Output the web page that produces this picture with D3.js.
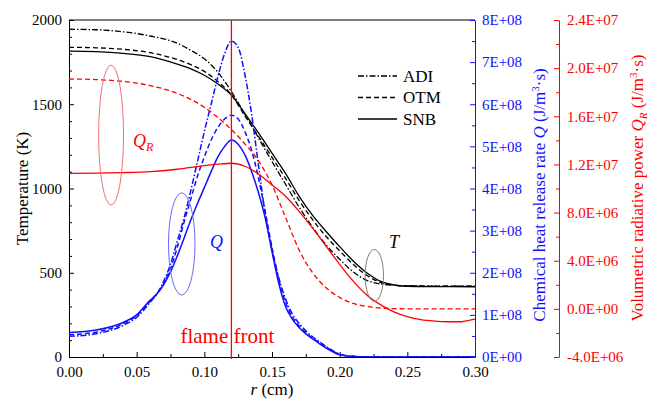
<!DOCTYPE html>
<html>
<head>
<meta charset="utf-8">
<script src="https://cdn.jsdelivr.net/npm/d3@7"></script>
<style>
  body { margin: 0; background: #fff; }
  svg { display: block; }
  text { font-family: "Liberation Serif", "Times New Roman", serif; }
</style>
</head>
<body>
<svg id="chart" width="649" height="401" font-family="Liberation Serif, serif"></svg>
<script>
// radius grids (cm)
const rT = [0, 0.02, 0.04, 0.06, 0.08, 0.09, 0.10, 0.11, 0.12, 0.13, 0.14, 0.15, 0.16, 0.17,
            0.18, 0.19, 0.20, 0.21, 0.22, 0.23, 0.24, 0.25, 0.27, 0.30]
const tADI = [1945, 1942, 1930, 1905, 1862, 1820, 1770, 1690, 1575, 1440, 1300, 1160, 1025, 890,
              770, 665, 580, 505, 455, 433, 425, 422, 421, 421]
const tOTM = [1838, 1835, 1826, 1806, 1765, 1735, 1695, 1635, 1555, 1430, 1310, 1185, 1060, 930,
              815, 715, 630, 550, 485, 443, 427, 422, 421, 421]
const tSNB = [1815, 1812, 1802, 1782, 1738, 1710, 1672, 1620, 1555, 1445, 1330, 1210, 1090, 955,
              840, 745, 655, 570, 500, 450, 428, 420, 418, 417]

// chemical heat release rate, 1E+08 J/m3s
const rQ = [0, 0.02, 0.04, 0.05, 0.06, 0.065, 0.07, 0.075, 0.08, 0.085, 0.09, 0.095, 0.10, 0.105,
            0.11, 0.115, 0.12, 0.125, 0.13, 0.135, 0.14, 0.145, 0.15, 0.155, 0.16, 0.165, 0.17,
            0.175, 0.18, 0.185, 0.19, 0.195, 0.20, 0.21, 0.22, 0.30]
const qADI = [0.49, 0.55, 0.75, 0.94, 1.3, 1.5, 1.8, 2.2, 2.75, 3.3, 3.95, 4.65, 5.35, 6.0,
              6.65, 7.2, 7.5, 7.35, 6.7, 5.75, 4.55, 3.4, 2.55, 1.88, 1.38, 1.02, 0.8,
              0.62, 0.48, 0.36, 0.25, 0.15, 0.07, 0.015, 0, 0]
const qOTM = [0.53, 0.59, 0.79, 0.98, 1.33, 1.5, 1.75, 2.1, 2.6, 3.2, 3.75, 4.3, 4.75, 5.15,
              5.45, 5.65, 5.74, 5.65, 5.35, 4.9, 4.25, 3.45, 2.6, 1.85, 1.3, 0.95, 0.74,
              0.58, 0.45, 0.34, 0.23, 0.14, 0.06, 0.015, 0, 0]
const qSNB = [0.58, 0.64, 0.82, 1.0, 1.35, 1.5, 1.72, 2.02, 2.4, 2.82, 3.25, 3.65, 4.02, 4.4,
              4.75, 5.0, 5.15, 5.05, 4.8, 4.4, 3.9, 3.3, 2.5, 1.75, 1.2, 0.9, 0.7,
              0.55, 0.43, 0.32, 0.21, 0.12, 0.05, 0.01, 0, 0]

// volumetric radiative power, 1E+06 J/m3s
const rQR = [0, 0.02, 0.04, 0.06, 0.08, 0.10, 0.11, 0.12, 0.13, 0.14, 0.15, 0.16, 0.17, 0.18,
             0.19, 0.20, 0.21, 0.22, 0.23, 0.24, 0.25, 0.26, 0.27, 0.28, 0.29, 0.295, 0.30]
const qrOTM = [19.1, 19.05, 18.9, 18.55, 17.9, 16.75, 15.9, 14.9, 13.7, 12.3, 10.3, 7.6, 4.9, 3.0,
               1.75, 0.95, 0.45, 0.2, 0.07, 0.02, 0, 0, 0, 0, 0, 0, 0]
const qrSNB = [11.26, 11.28, 11.32, 11.4, 11.6, 11.9, 12.02, 12.1, 11.85, 11.2, 10.3, 9.35, 8.1, 6.7,
               5.2, 3.7, 2.3, 1.15, 0.35, -0.25, -0.65, -0.9, -1.02, -1.07, -1.07, -0.97, -0.85]

const xTicks = [0, 0.05, 0.10, 0.15, 0.20, 0.25, 0.30]
const tTicks = [0, 500, 1000, 1500, 2000]
const qTicks = [0, 1, 2, 3, 4, 5, 6, 7, 8]
const qrTicks = [-4, 0, 4, 8, 12, 16, 20, 24]
const models = ['ADI', 'OTM', 'SNB']
const flameFront = 0.12

const dash = { ADI: '6,2,1.5,2', OTM: '5,3', SNB: null }
const blue = '#1010ff', red = '#ff0000'

const margin = { left: 69, top: 20 }
const width = 406, height = 337

const svg = d3.select('#chart')
const g = svg.append('g').attr('transform', `translate(${margin.left},${margin.top})`)

const x = d3.scaleLinear().domain([0, 0.3]).range([0, width])
const yT = d3.scaleLinear().domain([0, 2000]).range([height, 0])
const yQ = d3.scaleLinear().domain([0, 8]).range([height, 0])
const yQR = d3.scaleLinear().domain([-4, 24]).range([height, 0])

function drawAxis(axis, minor, transform, color) {
    const a = g.append('g').attr('transform', transform).call(axis)
    const m = g.append('g').attr('transform', transform).call(minor)
    m.select('.domain').remove()
    m.selectAll('text').remove()
    for (const s of [a, m]) {
        s.attr('font-family', null)
        s.selectAll('line').attr('stroke', color)
        s.selectAll('.domain').attr('stroke', color)
        s.selectAll('text').attr('fill', color).attr('font-size', 15)
    }
    return a
}

// x axis
drawAxis(d3.axisBottom(x).tickValues(xTicks).tickFormat(d3.format('.2f')).tickSize(-5).tickSizeOuter(0).tickPadding(9),
    d3.axisBottom(x).tickValues(d3.range(0.025, 0.3, 0.05)).tickSize(-3).tickSizeOuter(0),
    `translate(0,${height})`, '#000')

// left T axis
drawAxis(d3.axisLeft(yT).tickValues(tTicks).tickFormat(d3.format('d')).tickSize(-5).tickSizeOuter(0).tickPadding(7),
    d3.axisLeft(yT).tickValues(d3.range(100, 2000, 100).filter(v => v % 500)).tickSize(-3).tickSizeOuter(0),
    'translate(0,0)', '#000')

// top border
g.append('line').attr('x1', 0).attr('x2', width).attr('y1', 0).attr('y2', 0)
    .attr('stroke', '#000').attr('stroke-width', 1)

// blue Q axis
drawAxis(d3.axisRight(yQ).tickValues(qTicks).tickFormat(d => `${d}E+${d === 0 ? '00' : '08'}`)
        .tickSize(-5).tickSizeOuter(0).tickPadding(7),
    d3.axisRight(yQ).tickValues(d3.range(0.5, 8, 1)).tickSize(-3).tickSizeOuter(0),
    `translate(${width},0)`, blue)

// red Q_R axis
const fmtQR = d => {
    if (d === 0) return '0.0E+00'
    const e = Math.floor(Math.log10(Math.abs(d)))
    const mant = d / Math.pow(10, e)
    return `${mant.toFixed(1)}E+0${e + 6}`
}
drawAxis(d3.axisRight(yQR).tickValues(qrTicks).tickFormat(fmtQR).tickSize(-5).tickSizeOuter(0).tickPadding(8),
    d3.axisRight(yQR).tickValues(d3.range(-2, 24, 4)).tickSize(-3).tickSizeOuter(0),
    `translate(${width + 84},0)`, red)

// curves
const line = (ys, yScale, rs) => d3.line()
    .x((d, i) => x(rs[i]))
    .y(d => yScale(d))
    .curve(d3.curveMonotoneX)(ys)

const tSeries = { ADI: tADI, OTM: tOTM, SNB: tSNB }
const qSeries = { ADI: qADI, OTM: qOTM, SNB: qSNB }
const qrSeries = { OTM: qrOTM, SNB: qrSNB }

const plot = g.append('g')
plot.append('clipPath').attr('id', 'clip').append('rect').attr('width', width).attr('height', height)
plot.attr('clip-path', 'url(#clip)')

models.forEach(m => {
    plot.append('path').attr('d', line(tSeries[m], yT, rT))
        .attr('fill', 'none').attr('stroke', '#000').attr('stroke-width', 1.3)
        .attr('stroke-dasharray', dash[m])
})
models.forEach(m => {
    plot.append('path').attr('d', line(qSeries[m], yQ, rQ))
        .attr('fill', 'none').attr('stroke', blue).attr('stroke-width', 1.5)
        .attr('stroke-dasharray', dash[m])
})
Object.keys(qrSeries).forEach(m => {
    plot.append('path').attr('d', line(qrSeries[m], yQR, rQR))
        .attr('fill', 'none').attr('stroke', red).attr('stroke-width', 1.3)
        .attr('stroke-dasharray', dash[m])
})

// flame front
g.append('line').attr('x1', x(flameFront)).attr('x2', x(flameFront))
    .attr('y1', 0).attr('y2', height + 2).attr('stroke', red).attr('stroke-width', 1.3)
g.append('text').attr('x', x(flameFront) - 4).attr('y', yT(83))
    .attr('text-anchor', 'middle').attr('font-size', 21).attr('fill', red).text('flame front')

// annotation ellipses (data units)
const ellipses = [
    { r: 0.0311, t: 1317, dr: 0.0092, dt: 415, color: '#f07070' },
    { r: 0.0833, t: 671, dr: 0.0098, dt: 303, color: '#6a6aff' },
    { r: 0.2256, t: 484, dr: 0.0068, dt: 154, color: '#808080' }
]
ellipses.forEach(e => {
    g.append('ellipse').attr('cx', x(e.r)).attr('cy', yT(e.t))
        .attr('rx', x(e.dr) - x(0)).attr('ry', yT(0) - yT(e.dt))
        .attr('fill', 'none').attr('stroke', e.color).attr('stroke-width', 1)
})

const qrLabel = g.append('text').attr('x', x(0.0473)).attr('y', yT(1246))
    .attr('font-size', 18).attr('fill', red).attr('font-style', 'italic')
qrLabel.append('tspan').text('Q')
qrLabel.append('tspan').attr('font-size', 12).attr('dy', 4).text('R')

g.append('text').attr('x', x(0.1042)).attr('y', yT(647))
    .attr('font-size', 18).attr('fill', blue).attr('font-style', 'italic').text('Q')
g.append('text').attr('x', x(0.2365)).attr('y', yT(647))
    .attr('font-size', 18).attr('fill', '#000').attr('font-style', 'italic').text('T')

// legend
const legend = g.append('g').attr('transform', `translate(${358 - margin.left},${76 - margin.top})`)
models.forEach((m, i) => {
    const row = legend.append('g').attr('transform', `translate(0,${i * 21.5})`)
    row.append('line').attr('x1', 0).attr('x2', 39).attr('stroke', '#000').attr('stroke-width', 1.3)
        .attr('stroke-dasharray', dash[m])
    row.append('text').attr('x', 45).attr('dy', '0.35em').attr('font-size', 17).text(m)
})

// axis titles
svg.append('text').attr('transform', `translate(22,${margin.top + height / 2}) rotate(-90)`)
    .attr('text-anchor', 'middle').attr('dy', '0.35em').attr('font-size', 17).text('Temperature (K)')

const xt = svg.append('text').attr('x', margin.left + width / 2).attr('y', 395)
    .attr('text-anchor', 'middle').attr('font-size', 17)
xt.append('tspan').attr('font-style', 'italic').text('r')
xt.append('tspan').text(' (cm)')

const qt = svg.append('text').attr('transform', `translate(539,195) rotate(-90)`)
    .attr('text-anchor', 'middle').attr('dy', '0.35em').attr('font-size', 17).attr('fill', blue)
qt.append('tspan').text('Chemical heat release rate ')
qt.append('tspan').attr('font-style', 'italic').text('Q')
qt.append('tspan').text(' (J/m')
qt.append('tspan').attr('font-size', 11).attr('dy', -6).text('3')
qt.append('tspan').attr('dy', 6).text('·s)')

const qrt = svg.append('text').attr('transform', `translate(637,188) rotate(-90)`)
    .attr('text-anchor', 'middle').attr('dy', '0.35em').attr('font-size', 17).attr('fill', red)
qrt.append('tspan').text('Volumetric radiative power ')
qrt.append('tspan').attr('font-style', 'italic').text('Q')
qrt.append('tspan').attr('font-style', 'italic').attr('font-size', 11).attr('dy', 4).text('R')
qrt.append('tspan').attr('dy', -4).text(' (J/m')
qrt.append('tspan').attr('font-size', 11).attr('dy', -6).text('3')
qrt.append('tspan').attr('dy', 6).text('·s)')
</script>
</body>
</html>
